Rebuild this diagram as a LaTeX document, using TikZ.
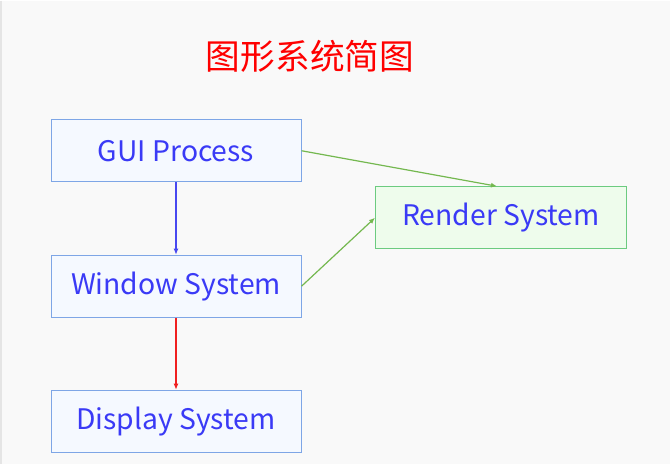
\documentclass[tikz,border=0pt]{standalone}
\usepackage{fontspec}
\setmainfont{Noto Sans CJK SC}
\usetikzlibrary{arrows.meta}
\definecolor{bg}{HTML}{F9F9F9}
\definecolor{boxfill}{HTML}{F5F9FF}
\definecolor{boxdraw}{HTML}{7EA6E6}
\definecolor{rfill}{HTML}{EEFCEC}
\definecolor{rdraw}{HTML}{6CCB80}
\definecolor{txt}{HTML}{3A3AF6}
\definecolor{garrow}{HTML}{74B84F}
\definecolor{barrow}{HTML}{4848F0}
\definecolor{rarrow}{HTML}{F02020}
\tikzset{
  bluebox/.style={draw=boxdraw, fill=boxfill, line width=1pt, minimum width=250pt, minimum height=62pt, inner sep=0pt, text=txt, font=\fontsize{28.3}{32}\selectfont},
  greenbox/.style={draw=rdraw, fill=rfill, line width=1pt, minimum width=251pt, minimum height=62pt, inner sep=0pt, text=txt, font=\fontsize{28.3}{32}\selectfont},
  conn/.style={line width=1.2pt, -{Latex[length=6pt,width=5pt]}},
}
\begin{document}
\begin{tikzpicture}[x=1pt,y=-1pt]
\fill[bg] (0,0) rectangle (670,463);
\draw[black!10, line width=1.5pt] (1,0) -- (1,463);
\useasboundingbox (0,0) rectangle (670,463);
\node[text=red, font=\fontsize{34.7}{40}\selectfont] (title) at (310,56) {图形系统简图};
\node[bluebox] (gui) at (176,150) {GUI Process};
\node[bluebox] (win) at (176,285.5) {Window System};
\node[bluebox] (disp) at (176,420.5) {Display System};
\node[greenbox] (render) at (501,217) {Render System};
\draw[conn, barrow] (gui) -- (win);
\draw[conn, rarrow] (win) -- (disp);
\draw[conn, garrow] (gui.east) -- ([xshift=-4pt]render.north);
\draw[conn, garrow] (win.east) -- (render.west);
\end{tikzpicture}
\end{document}
